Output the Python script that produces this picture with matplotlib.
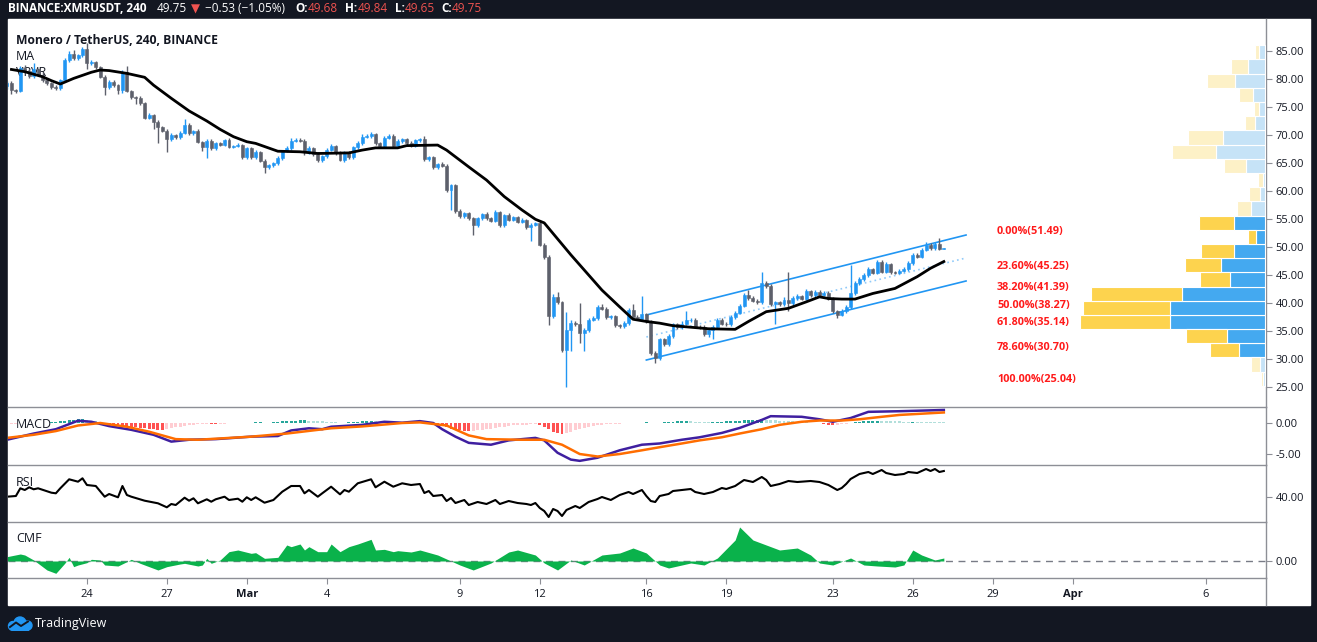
import numpy as np
import matplotlib.pyplot as plt
from matplotlib.patches import Rectangle, Circle
from matplotlib.ticker import FormatStrFormatter

plt.rcParams['font.family'] = ['Open Sans', 'DejaVu Sans']

# 4h candles starting Feb 21 00:00, x axis = days since then
first_open = 78.8
closes = [
    79.3, 78.0, 77.9, 82.0, 81.4, 80.5,   # Feb 21
    81.7, 80.8, 79.9, 79.3, 78.6, 78.4,   # Feb 22
    79.8, 83.4, 84.5, 83.7, 84.2, 85.3,   # Feb 23
    82.8, 83.0, 82.1, 80.4, 78.5, 79.5,   # Feb 24
    78.9, 78.0, 81.3, 77.9, 76.7, 76.6,   # Feb 25
    75.7, 73.1, 73.6, 72.4, 71.4, 70.8,   # Feb 26
    69.2, 70.0, 69.6, 70.4, 71.8, 70.3,   # Feb 27
    70.7, 68.8, 67.9, 69.0, 67.6, 68.5,   # Feb 28
    68.3, 69.1, 67.9, 68.1, 68.2, 66.1,   # Feb 29
    67.6, 66.1, 67.0, 65.4, 64.3, 64.6,   # Mar 1
    65.0, 65.9, 67.2, 67.7, 69.0, 69.1,   # Mar 2
    69.0, 66.9, 67.7, 66.6, 65.5, 66.2,   # Mar 3
    67.4, 68.1, 66.8, 65.6, 66.9, 66.0,   # Mar 4
    67.8, 68.6, 69.7, 69.8, 70.2, 68.6,   # Mar 5
    68.0, 69.5, 69.9, 68.0, 68.9, 69.3,   # Mar 6
    68.6, 68.1, 69.1, 69.2, 65.7, 66.0,   # Mar 7
    64.3, 64.8, 64.5, 60.1, 61.0, 56.4,   # Mar 8
    55.5, 56.0, 55.2, 53.9, 55.1, 55.9,   # Mar 9
    55.2, 54.7, 56.2, 53.9, 55.7, 54.9,   # Mar 10
    55.3, 54.5, 54.8, 53.6, 54.0, 54.3,   # Mar 11
    50.4, 48.2, 37.7, 41.1, 40.1, 31.6,   # Mar 12
    35.2, 36.4, 36.2, 34.6, 35.2, 37.0,   # Mar 13
    37.3, 39.2, 39.0, 37.5, 37.6, 36.0,   # Mar 14
    35.9, 36.4, 38.7, 37.5, 37.2, 38.0,   # Mar 15
    36.7, 31.1, 30.1, 33.5, 32.6, 34.1,   # Mar 16
    36.2, 35.7, 36.3, 36.9, 37.0, 35.8,   # Mar 17
    35.7, 34.5, 35.2, 35.7, 37.0, 36.3,   # Mar 18
    36.2, 37.5, 38.3, 39.5, 41.4, 40.9,   # Mar 19
    40.4, 40.2, 43.5, 43.0, 39.8, 40.1,   # Mar 20
    39.8, 40.6, 40.0, 40.9, 41.2, 40.8,   # Mar 21
    42.1, 41.4, 42.0, 41.5, 41.8, 40.8,   # Mar 22
    38.5, 37.9, 38.6, 39.3, 41.8, 43.5,   # Mar 23
    44.3, 45.0, 46.0, 45.4, 47.3, 45.6,   # Mar 24
    46.9, 45.5, 45.4, 45.8, 46.1, 47.1,   # Mar 25
    48.6, 48.3, 49.5, 50.4, 49.8, 50.5,   # Mar 26
    49.68, 49.75,                         # Mar 27
]
wick_up = [
    0.4, 0.3, 0.3, 0.3, 0.5, 0.4,  1.2, 0.3, 0.4, 0.3, 0.2, 0.3,
    0.2, 0.3, 0.5, 0.6, 0.3, 0.4,  1.1, 0.3, 0.2, 0.3, 0.4, 0.3,
    0.3, 0.2, 0.3, 1.0, 0.2, 0.3,  0.3, 0.2, 0.3, 0.2, 0.3, 0.2,
    0.3, 0.3, 0.2, 0.4, 1.0, 0.3,  0.2, 0.3, 0.2, 0.3, 0.3, 0.2,
    0.3, 0.2, 0.3, 0.2, 0.3, 0.2,  0.3, 0.2, 0.3, 0.2, 0.3, 0.2,
    0.2, 0.3, 0.2, 0.3, 0.4, 0.3,  0.4, 0.3, 0.3, 0.2, 0.3, 0.2,
    0.3, 0.3, 0.2, 0.3, 0.2, 0.3,  0.3, 0.3, 0.4, 0.4, 0.3, 0.2,
    0.2, 0.3, 0.3, 0.2, 0.3, 0.2,  0.2, 0.3, 0.2, 0.3, 0.7, 0.2,
    0.3, 0.2, 0.3, 0.3, 0.3, 0.3,  0.3, 0.2, 0.3, 0.2, 0.3, 0.2,
    0.3, 0.2, 0.4, 0.3, 0.2, 0.3,  0.2, 0.2, 0.3, 0.2, 0.3, 0.2,
    0.5, 0.3, 0.3, 0.5, 0.8, 0.3,  3.2, 0.5, 0.3, 3.8, 0.3, 0.4,
    0.3, 0.4, 0.7, 0.3, 0.3, 0.3,  0.2, 0.3, 0.4, 1.2, 0.3, 3.3,
    0.3, 0.3, 0.3, 0.3, 0.3, 0.4,  0.3, 0.3, 0.4, 1.6, 0.3, 0.3,
    0.3, 0.3, 0.3, 0.3, 0.4, 0.3,  0.3, 0.4, 0.3, 0.3, 0.4, 1.0,
    0.3, 0.3, 2.1, 0.4, 0.4, 0.3,  0.3, 0.4, 5.0, 0.3, 0.4, 0.3,
    0.4, 0.3, 0.3, 0.3, 0.3, 0.3,  0.3, 0.3, 0.3, 0.3, 5.0, 0.4,
    0.4, 0.4, 0.5, 0.3, 0.4, 0.3,  0.4, 0.3, 0.3, 0.3, 0.3, 0.4,
    0.4, 0.3, 0.4, 0.5, 0.3, 0.4,  1.05, 0.09,
]
wick_dn = [
    0.5, 0.6, 0.4, 0.3, 0.3, 0.4,  0.3, 0.3, 0.4, 0.3, 0.4, 0.3,
    0.3, 0.2, 0.3, 0.3, 0.3, 0.2,  1.0, 0.3, 0.3, 0.3, 1.3, 0.3,
    0.3, 0.6, 0.5, 0.3, 0.3, 1.0,  0.3, 0.3, 0.3, 1.4, 2.9, 0.3,
    2.3, 0.3, 0.3, 0.3, 0.3, 0.3,  0.3, 0.3, 0.8, 2.0, 0.3, 0.3,
    0.3, 0.3, 0.3, 0.3, 0.3, 0.3,  0.3, 0.3, 0.3, 0.3, 1.0, 0.3,
    0.3, 0.3, 0.3, 0.3, 0.3, 0.3,  0.3, 0.4, 0.3, 0.3, 0.4, 0.3,
    0.3, 0.3, 0.3, 0.3, 0.4, 0.3,  0.3, 0.3, 0.3, 0.3, 0.3, 0.4,
    0.3, 0.3, 0.3, 0.3, 0.3, 0.3,  0.3, 0.3, 0.3, 0.3, 0.3, 0.3,
    0.4, 0.3, 0.3, 0.3, 3.5, 0.3,  0.3, 0.3, 0.4, 1.8, 0.3, 0.3,
    0.3, 0.3, 0.3, 0.3, 0.3, 0.3,  0.3, 0.3, 0.3, 0.3, 2.5, 0.3,
    0.3, 0.3, 1.7, 0.4, 0.3, 0.4,  6.56, 3.7, 0.3, 1.7, 3.1, 0.3,
    0.3, 0.3, 0.3, 0.3, 0.3, 0.3,  0.3, 0.3, 0.3, 0.3, 0.3, 0.4,
    0.3, 0.3, 0.9, 0.3, 0.3, 0.3,  0.3, 0.3, 0.3, 0.3, 0.3, 0.3,
    0.3, 0.4, 0.5, 1.6, 0.3, 0.3,  0.3, 0.3, 0.3, 0.3, 0.3, 0.3,
    0.3, 0.3, 0.3, 0.3, 0.3, 3.5,  0.3, 0.3, 1.4, 0.3, 0.3, 0.3,
    0.3, 0.3, 0.3, 0.3, 0.3, 0.3,  0.3, 0.5, 0.3, 0.3, 0.3, 0.3,
    0.3, 0.3, 0.3, 0.3, 0.3, 0.3,  0.3, 0.3, 0.3, 0.3, 0.3, 0.3,
    0.3, 0.3, 0.3, 0.3, 0.3, 0.3,  0.3, 0.03,
]

# moving average (candle index, value)
ma_idx = [1, 4, 8, 10, 12, 15, 19, 21, 23, 27, 31, 33, 37, 41, 45, 48, 51, 54, 56, 61,
          66, 70, 77, 80, 83, 88, 90, 97, 99, 102, 104, 108, 112, 116, 119, 121, 123, 127, 131, 134,
          138, 141, 144, 147, 150, 158, 164, 167, 171, 176, 180, 183, 185, 188, 191, 195, 200, 205, 208, 211]
ma_val = [81.7, 81.3, 80.4, 79.7, 79.1, 80.1, 81.2, 81.6, 81.5, 81.0, 80.3, 78.9, 76.55, 74.3, 72.5, 71.0, 69.7, 68.8, 68.5, 67.1,
          67.0, 66.7, 66.8, 67.3, 67.7, 67.7, 68.1, 68.2, 67.3, 65.5, 64.3, 61.95, 59.0, 56.6, 54.95, 54.3, 52.4, 48.6, 45.0, 42.3,
          39.3, 37.1, 36.7, 36.4, 35.95, 35.4, 35.3, 36.7, 38.45, 39.05, 40.2, 41.1, 40.8, 40.7, 40.7, 41.7, 42.6, 44.7, 46.2, 47.4]

# regression channel (day, price)
chan_x = [24.0, 36.0]
chan_upper = [37.86, 52.14]
chan_mid = [33.93, 48.04]
chan_lower = [29.82, 43.93]

fib_levels = [51.49, 45.25, 41.39, 38.27, 35.14, 30.70, 25.04]
fib_labels = ['0.00%(51.49)', '23.60%(45.25)', '38.20%(41.39)', '50.00%(38.27)',
              '61.80%(35.14)', '78.60%(30.70)', '100.00%(25.04)']

# volume profile, bottom row first
vp_bottom = 25.2
vp_step = 2.535
vp_up = [2, 5, 26, 38, 95, 95, 83, 35, 44, 31, 9, 31, 14, 5, 2, 19, 49, 42, 10, 6, 12, 30, 17, 6]
vp_down = [2, 9, 29, 41, 90, 87, 91, 30, 36, 33, 8, 35, 14, 11, 5, 22, 44, 35, 10, 5, 14, 28, 17, 4]
vp_in_value_area = [0, 0, 1, 1, 1, 1, 1, 1, 1, 1, 1, 1, 0, 0, 0, 0, 0, 0, 0, 0, 0, 0, 0, 0]

# MACD
macd_idx = [0, 6, 11, 16, 19, 23, 28, 33, 37, 41, 47, 55, 61, 64, 68, 71, 73, 80, 85, 89, 93, 96, 98, 101,
            104, 109, 113, 119, 121, 124, 127, 129, 133, 138, 143, 147, 152, 156, 161, 165, 170, 172, 179, 183,
            186, 190, 194, 201, 211]
macd_val = [-2.7, -1.7, -1.0, 0.37, 0.2, -0.5, -1.1, -1.9, -3.0, -2.7, -2.6, -2.2, -2.1, -1.2, -0.85, -1.0, -0.6,
            -0.3, 0.2, 0.05, 0.3, 0.0, -1.0, -2.2, -3.2, -3.5, -2.8, -2.4, -2.8, -4.8, -5.9, -6.1, -5.6, -4.4, -3.5,
            -3.3, -2.7, -2.3, -1.6, -0.8, 0.5, 1.1, 1.0, 0.6, 0.2, 0.8, 1.8, 1.9, 2.1]
signal_idx = [0, 6, 11, 16, 21, 27, 32, 38, 43, 55, 63, 73, 80, 89, 93, 99, 104, 108, 116, 121, 125, 129, 133,
              138, 143, 147, 152, 156, 161, 165, 170, 174, 179, 183, 188, 192, 197, 201, 211]
signal_val = [-2.4, -1.9, -1.3, -0.4, 0.0, -0.6, -1.4, -2.6, -2.7, -2.2, -1.7, -0.85, -0.55, 0.0, 0.1, -0.4, -2.0,
              -2.6, -2.7, -2.7, -3.5, -5.0, -5.4, -5.0, -4.4, -3.9, -3.3, -2.8, -2.3, -1.7, -1.0, -0.3, 0.2, 0.4,
              0.4, 0.6, 1.0, 1.3, 1.7]
macd_hist = [
    -0.1, -0.1, -0.08, -0.05, 0.03, 0.05,   0.05, 0.04, 0.06, 0.08, 0.1, 0.2,
    0.3, 0.4, 0.5, 0.55, 0.6, 0.6,          0.5, 0.35, 0.25, 0.15, 0.05, -0.15,
    -0.25, -0.35, -0.45, -0.55, -0.65, -0.7, -0.8, -0.85, -0.9, -1.0, -1.05, -1.1,
    -1.0, -0.85, -0.7, -0.6, -0.5, -0.4,    -0.3, -0.2, -0.1, -0.1, -0.12, -0.15,
    -0.15, -0.1, 0.05, 0.06, 0.08, 0.06,    0.05, 0.07, 0.09, 0.1, 0.08, 0.06,
    0.1, 0.15, 0.25, 0.3, 0.35, 0.4,        0.45, 0.45, 0.4, 0.35, 0.3, 0.25,
    0.2, 0.15, 0.1, 0.08, 0.05, 0.1,        0.15, 0.2, 0.25, 0.3, 0.3, 0.25,
    0.2, 0.18, 0.15, 0.12, 0.1, 0.08,       0.07, 0.06, 0.05, 0.05, 0.03, -0.1,
    -0.2, -0.3, -0.5, -0.7, -0.9, -1.1,     -1.2, -1.3, -1.35, -1.3, -1.2, -1.1,
    -1.0, -0.9, -0.8, -0.7, -0.6, -0.5,     -0.4, -0.35, -0.3, -0.25, -0.2, -0.2,
    -0.3, -0.6, -1.0, -1.4, -1.6, -1.7,     -1.6, -1.4, -1.2, -1.0, -0.8, -0.6,
    -0.45, -0.35, -0.25, -0.2, -0.15, -0.1, -0.08, -0.05, -0.03, 0.05, 0.06, 0.08,
    0.1, 0.05, 0.02, 0.05, 0.1, 0.15,       0.2, 0.25, 0.3, 0.3, 0.25, 0.2,
    0.15, 0.12, 0.1, 0.1, 0.15, 0.2,        0.25, 0.3, 0.35, 0.4, 0.45, 0.5,
    0.5, 0.55, 0.6, 0.55, 0.5, 0.45,        0.4, 0.35, 0.3, 0.25, 0.2, 0.15,
    0.1, 0.05, 0.0, -0.05, -0.15, -0.25,    -0.3, -0.3, -0.2, -0.1, 0.0, 0.1,
    0.2, 0.3, 0.35, 0.4, 0.4, 0.38,         0.35, 0.3, 0.28, 0.25, 0.22, 0.2,
    0.2, 0.18, 0.17, 0.15, 0.14, 0.12,      0.1, 0.09,
]

# RSI
rsi_idx = [0, 2, 3, 4, 5, 6, 7, 10, 11, 12, 14, 16, 17, 18, 20, 22, 23, 25, 26, 27, 28, 31, 34, 36, 37, 38,
           40, 41, 42, 43, 45, 46, 47, 49, 50, 52, 53, 54, 55, 56, 58, 60, 62, 64, 66, 67, 68, 70, 71, 73,
           75, 76, 77, 79, 82, 83, 85, 87, 89, 91, 93, 94, 95, 96, 98, 99, 100, 101, 103, 104, 106, 108,
           110, 111, 113, 115, 117, 118, 119, 120, 121, 122, 123, 124, 125, 126, 128, 129, 131, 133, 134,
           136, 138, 140, 141, 143, 144, 145, 146, 147, 149, 150, 152, 154, 155, 157, 159, 161, 162, 164,
           166, 168, 170, 171, 172, 174, 176, 178, 181, 183, 185, 187, 188, 189, 190, 192, 194, 195, 197,
           198, 200, 202, 203, 205, 207, 208, 209, 210, 211]
rsi_val = [40.3, 41, 48.7, 47, 49.7, 47.7, 48.7, 44.3, 43.7, 48.7, 57.7, 55.3, 58.7, 52, 51, 40.3, 43, 39.7,
           51, 42, 40.3, 36.3, 33.7, 29.7, 33, 32, 39.3, 36.3, 38.7, 33.7, 37.7, 35.3, 37.7, 40.3, 37, 38.3,
           35.3, 39.7, 37, 39.7, 34.3, 37, 45.3, 51, 51, 43.7, 47, 40.3, 43.7, 50.3, 42.7, 47, 45.3, 53.7,
           57.7, 49.7, 55.3, 50.3, 53.7, 52, 53, 44, 46, 41, 42, 36, 39, 34, 37, 32, 35, 33,
           37, 33, 36, 34, 33, 32, 34, 29, 26, 20, 28, 26, 21, 27, 31, 29, 35, 38, 40,
           37, 42, 45, 43, 47, 41, 36, 35, 41, 43, 46, 47, 48, 45, 43, 45, 49, 48, 51,
           57, 55, 60, 57, 51, 53, 56, 55, 56, 55, 52, 47, 49, 53, 58, 63, 65, 63, 67,
           64, 62, 63, 65, 64, 68, 66, 68, 65, 66]

# Chaikin money flow
cmf_idx = [0, 3, 4, 6, 7, 9, 11, 12, 13, 14, 15, 16, 18, 19, 21, 22, 25, 27, 28, 30, 31, 34, 36, 39, 40,
           43, 44, 45, 46, 48, 50, 52, 55, 56, 58, 61, 63, 64, 66, 67, 68, 70, 72, 73, 75, 77, 79, 82, 83,
           85, 87, 88, 91, 93, 97, 102, 105, 109, 113, 115, 119, 121, 124, 127, 130, 134, 138, 141, 144,
           147, 149, 154, 157, 160, 164, 165, 168, 171, 174, 178, 181, 183, 186, 190, 193, 196, 200, 202,
           204, 206, 209, 211]
cmf_val = [0.026, 0.042, 0.036, 0.006, -0.014, -0.054, -0.074, -0.044, -0.014, 0.022, -0.034, -0.024, -0.01,
           0.01, 0.006, -0.024, -0.03, -0.004, 0.01, -0.014, -0.024, -0.054, -0.034, -0.018, -0.014, -0.03,
           -0.024, 0.016, -0.014, 0.006, 0.056, 0.066, 0.046, 0.05, 0.016, 0.022, 0.096, 0.086, 0.102, 0.066,
           0.086, 0.056, 0.056, 0.102, 0.056, 0.086, 0.102, 0.13, 0.066, 0.07, 0.056, 0.062, 0.054, 0.066,
           0.036, -0.024, -0.054, -0.012, 0.054, 0.066, 0.036, -0.012, -0.054, 0.006, -0.024, 0.036, 0.048,
           0.078, 0.048, -0.024, -0.042, -0.012, -0.024, 0.018, 0.126, 0.204, 0.126, 0.096, 0.066, 0.078,
           0.036, -0.012, -0.024, 0.018, -0.024, -0.03, -0.036, -0.024, 0.066, 0.036, 0.006, 0.018]

tick_days = [3, 6, 9, 12, 17, 20, 24, 27, 31, 34, 37, 40, 45]
tick_labels = ['24', '27', 'Mar', '4', '9', '12', '16', '19', '23', '26', '29', 'Apr', '6']

UP, DOWN = '#2196f3', '#5d606b'
GRID = '#8d8f96'
INK = '#131722'

W, H = 1317, 642
fig = plt.figure(figsize=(W / 100, H / 100), dpi=100, facecolor='#131722')


def fx(px):
    return px / W


def fy(py):
    return 1 - py / H


fig.patches.append(Rectangle((fx(8), fy(605)), (1310 - 8) / W, (605 - 19) / H,
                             transform=fig.transFigure, color='white', zorder=-5))


def panel(top, bottom):
    a = fig.add_axes([fx(8), fy(bottom), (1266 - 8) / W, (bottom - top) / H])
    a.set_facecolor('none')
    a.set_xlim(0.0375, 47.26)
    for s in ['left', 'top']:
        a.spines[s].set_visible(False)
    for s in ['right', 'bottom']:
        a.spines[s].set_color(GRID)
        a.spines[s].set_linewidth(1)
    a.yaxis.tick_right()
    a.tick_params(axis='y', length=4, color=GRID, labelsize=8, pad=3, labelcolor=INK)
    a.tick_params(axis='x', bottom=False, top=False, labelbottom=False, labeltop=False)
    a.yaxis.set_major_formatter(FormatStrFormatter('%.2f'))
    return a


ax = panel(19, 407)
ax_macd = panel(407, 465)
ax_rsi = panel(465, 522)
ax_cmf = panel(522, 578)

# candles
c = np.array(closes)
o = np.concatenate([[first_open], c[:-1]])
x = np.arange(len(c)) / 6
hi = np.maximum(o, c) + np.array(wick_up)
lo = np.minimum(o, c) - np.array(wick_dn)
col = np.where(c >= o, UP, DOWN)
ax.vlines(x, lo, hi, colors=col, lw=1, zorder=3)
ax.bar(x, np.abs(c - o), bottom=np.minimum(o, c), width=0.11, color=col,
       edgecolor=col, linewidth=0.4, zorder=4)
ax.plot(np.array(ma_idx) / 6, ma_val, color='black', lw=2, zorder=5)

ax.plot(chan_x, chan_upper, color='#2196f3', lw=1.2, zorder=2)
ax.plot(chan_x, chan_lower, color='#2196f3', lw=1.2, zorder=2)
ax.plot(chan_x, chan_mid, color='#90caf9', lw=1.2, ls=(0, (1, 2)), zorder=2)

for lvl, lab in zip(fib_levels, fib_labels):
    ax.text(37.16, lvl + 0.35, lab, color='#ff1a1a', fontsize=7.8, fontweight='bold',
            va='bottom', ha='left', zorder=6)

# volume profile drawn against the right price scale
vp = ax.twiny()
vp.set_xlim(1258, -1)
vp.set_axis_off()
centers = vp_bottom + vp_step * (np.arange(len(vp_up)) + 0.5)
up_col = ['#44a9f0' if v else '#c6e3f7' for v in vp_in_value_area]
dn_col = ['#fdd34e' if v else '#fdf1c7' for v in vp_in_value_area]
vp.barh(centers, vp_up, height=vp_step, left=0, color=up_col, edgecolor='white', linewidth=0.8)
vp.barh(centers, vp_down, height=vp_step, left=vp_up, color=dn_col, edgecolor='white', linewidth=0.8)

# twiny turns the bottom ticks back on
ax.tick_params(axis='x', bottom=False, top=False, labelbottom=False, labeltop=False)
ax.set_ylim(21.43, 90.71)
ax.set_yticks(np.arange(25, 86, 5))

# MACD
hist = np.array(macd_hist)
prev = np.concatenate([[hist[0]], hist[:-1]])
hcol = np.where(hist >= 0, np.where(hist >= prev, '#26a69a', '#b2dfdb'),
                np.where(hist < prev, '#ff5252', '#ffcdd2'))
ax_macd.bar(x, hist, width=0.11, color=hcol, zorder=2)
ax_macd.plot(np.array(macd_idx) / 6, macd_val, color='#3f1fa0', lw=1.8, zorder=3)
ax_macd.plot(np.array(signal_idx) / 6, signal_val, color='#ff6d00', lw=1.8, zorder=3)
ax_macd.set_ylim(-6.77, 2.58)
ax_macd.set_yticks([0, -5])

# RSI
ax_rsi.plot(np.array(rsi_idx) / 6, rsi_val, color='black', lw=1.5)
ax_rsi.set_ylim(15, 72)
ax_rsi.set_yticks([40])

# CMF
cx = np.array(cmf_idx) / 6
ax_cmf.fill_between(cx, cmf_val, 0, color='#0ab24b', lw=0, interpolate=True, zorder=2)
ax_cmf.axhline(0, color='#787b86', lw=1, ls=(0, (5, 4)), zorder=1)
ax_cmf.set_ylim(-0.102, 0.234)
ax_cmf.set_yticks([0])
ax_cmf.set_xticks(tick_days)
ax_cmf.set_xticklabels(tick_labels)
ax_cmf.tick_params(axis='x', bottom=True, labelbottom=True, length=4, color=GRID,
                   labelsize=8, labelcolor=INK, pad=4)
for t in ax_cmf.get_xticklabels():
    if t.get_text() in ('Mar', 'Apr'):
        t.set_fontweight('bold')

fig.add_artist(plt.Line2D([fx(1266), fx(1266)], [fy(578), fy(605)], color=GRID, lw=1))

# legends inside the panes
ax.text(fx(16), fy(40), 'Monero / TetherUS, 240, BINANCE', transform=fig.transFigure,
        fontsize=8.7, fontweight='bold', color=INK, va='center', zorder=2)
ax.text(fx(16), fy(57), 'MA', transform=fig.transFigure, fontsize=9, color=INK, va='center', zorder=2)
ax.text(fx(16), fy(73), 'VPVR', transform=fig.transFigure, fontsize=9, color=INK, va='center', zorder=2)
ax_macd.text(fx(16), fy(425), 'MACD', transform=fig.transFigure, fontsize=9, color=INK, va='center', zorder=1)
ax_rsi.text(fx(16), fy(483), 'RSI', transform=fig.transFigure, fontsize=9, color=INK, va='center', zorder=1)
ax_cmf.text(fx(16), fy(539), 'CMF', transform=fig.transFigure, fontsize=9, color=INK, va='center', zorder=1)

# header bar
RED = '#ef5350'
header = [(8, 'BINANCE:XMRUSDT, 240', 'white', 'bold'), (157, '49.75', 'white', 'normal'),
          (191, '▼', RED, 'normal'), (205, '−0.53 (−1.05%)', 'white', 'normal'),
          (295, 'O:', 'white', 'bold'), (308, '49.68', RED, 'normal'),
          (345, 'H:', 'white', 'bold'), (358, '49.84', RED, 'normal'),
          (395, 'L:', 'white', 'bold'), (405, '49.65', RED, 'normal'),
          (441, 'C:', 'white', 'bold'), (452, '49.75', RED, 'normal')]
for px, s, cl, wt in header:
    fig.text(fx(px), fy(9), s, color=cl, fontsize=8.5, fontweight=wt, va='center', ha='left')

# TradingView logo
lg = fig.add_axes([fx(7), fy(631), 27 / W, 15 / H])
lg.set_xlim(0, 27)
lg.set_ylim(0, 15)
lg.set_axis_off()
for cxx, cyy, r in [(6, 5, 4.5), (13, 8, 6), (20.5, 5.5, 4.5)]:
    lg.add_patch(Circle((cxx, cyy), r, color='#2196f3'))
lg.add_patch(Rectangle((6, 0.5), 14.5, 5, color='#2196f3'))
lg.plot([3, 9, 14, 21], [4, 8.5, 5, 9.5], color='#131722', lw=1.4)
fig.text(fx(35), fy(623), 'TradingView', color='white', fontsize=9, va='center', ha='left')

fig.savefig('out.png', dpi=100, facecolor=fig.get_facecolor())
